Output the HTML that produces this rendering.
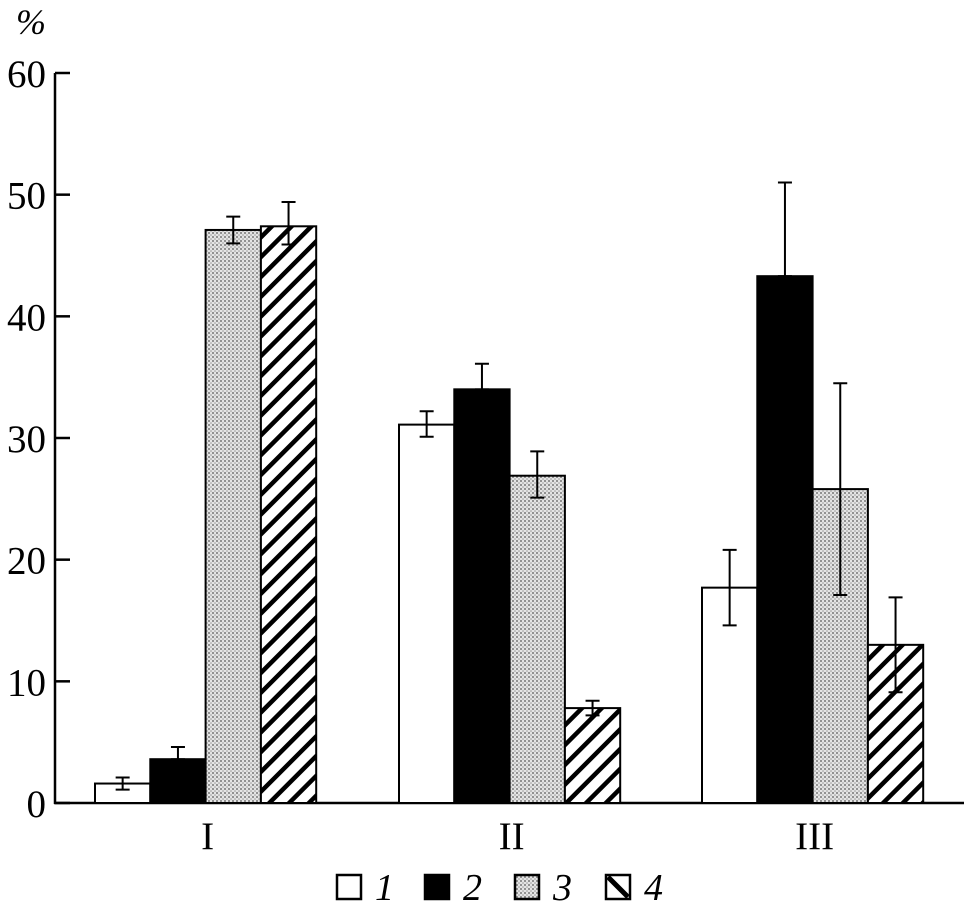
<!DOCTYPE html>
<html><head><meta charset="utf-8"><style>
html,body{margin:0;padding:0;background:#fff;}
svg{display:block;font-family:"Liberation Serif",serif;}
</style></head><body>
<svg id="chart" width="964" height="917" viewBox="0 0 964 917">
<defs>
<pattern id="dots" width="4" height="4" patternUnits="userSpaceOnUse">
<rect width="4" height="4" fill="#e4e4e4"/><circle cx="1" cy="1" r="1" fill="#777"/><circle cx="3" cy="3" r="0.8" fill="#999"/>
</pattern>
<pattern id="hatch" width="14" height="14" patternUnits="userSpaceOnUse" patternTransform="rotate(45)">
<rect width="14" height="14" fill="#fff"/><rect x="0" y="0" width="4.5" height="14" fill="#000"/>
</pattern>
</defs>
<g id="axes"></g>
<g id="bars"></g>
<g id="legend"></g>
</svg>
<script>
const categories = ["I","II","III"];
const series1 = [1.6, 31.1, 17.7];
const series2 = [3.6, 34.0, 43.3];
const series3 = [47.1, 26.9, 25.8];
const series4 = [47.4, 7.8, 13.0];
const errUp = [[0.5,1.1,3.1],[1.0,2.1,7.7],[1.1,2.0,8.7],[2.0,0.6,3.9]];
const errDown = [[0.5,1.0,3.1],[0,0,0],[1.1,1.8,8.7],[1.5,0.6,3.9]];
const yTicks = [0,10,20,30,40,50,60];
const legendLabels = ["1","2","3","4"];

const NS="http://www.w3.org/2000/svg";
function mk(tag,attrs,parent){const e=document.createElementNS(NS,tag);for(const k in attrs)e.setAttribute(k,attrs[k]);parent.appendChild(e);return e;}
const y0=803, yTop=73, xAxis=55;
function yScale(v){return y0-(v/60)*(y0-yTop);}
const groupStart=[95,399,702], barW=55.3;
function xScale(g,s){return groupStart[g]+s*barW;}
const fills=["#fff","#000","url(#dots)","url(#hatch)"];
const series=[series1,series2,series3,series4];

const axes=document.getElementById("axes");
let a=mk("line",{x1:xAxis,y1:yTop,x2:xAxis,y2:y0+1,stroke:"#000","stroke-width":2.5},axes);


a=mk("line",{x1:xAxis-1,y1:y0,x2:964,y2:y0,stroke:"#000","stroke-width":2.5},axes);


yTicks.forEach(t=>{
  const y=yScale(t);
  const l=mk("line",{x1:xAxis,y1:y,x2:xAxis+15,y2:y,stroke:"#000","stroke-width":2.5},axes);
  
  
  const tx=mk("text",{x:46,y:y+14,"text-anchor":"end","font-size":39},axes);
  tx.textContent=t;
  
  
});
const pct=mk("text",{x:16,y:34,"font-size":36,"font-style":"italic"},axes);
pct.textContent="%";


categories.forEach((c,g)=>{
  const t=mk("text",{x:xScale(g,2)+2,y:849,"text-anchor":"middle","font-size":39},axes);
  t.textContent=c;
  
  
});

const bars=document.getElementById("bars");
series.forEach((vals,s)=>{
  vals.forEach((v,g)=>{
    const x=xScale(g,s), y=yScale(v);
    const r=mk("rect",{x:x,y:y,width:barW,height:y0-y,fill:fills[s],stroke:"#000","stroke-width":2},bars);
    
    
    const cx=x+barW/2, yu=yScale(v+errUp[s][g]), yd=yScale(v-errDown[s][g]);
    const e=mk("path",{d:`M${cx-7},${yu}H${cx+7}M${cx},${yu}V${yd}M${cx-7},${yd}H${cx+7}`,stroke:"#000","stroke-width":2,fill:"none"},bars);
    
    
  });
});

const leg=document.getElementById("legend");
const legX=[337,425,515,606];
legendLabels.forEach((lab,i)=>{
  const x=legX[i];
  const r=mk("rect",{x:x,y:875,width:24,height:24,fill:i===3?"#fff":fills[i],stroke:"#000","stroke-width":2.5},leg);
  
  
  if(i===3){
    const d=mk("path",{d:`M${x+2},${877}L${x+22},${897}`,stroke:"#000","stroke-width":5},leg);
    
    
  }
  const t=mk("text",{x:x+38,y:900,"font-size":38,"font-style":"italic"},leg);
  t.textContent=lab;
  
  
});
</script>
</body></html>
